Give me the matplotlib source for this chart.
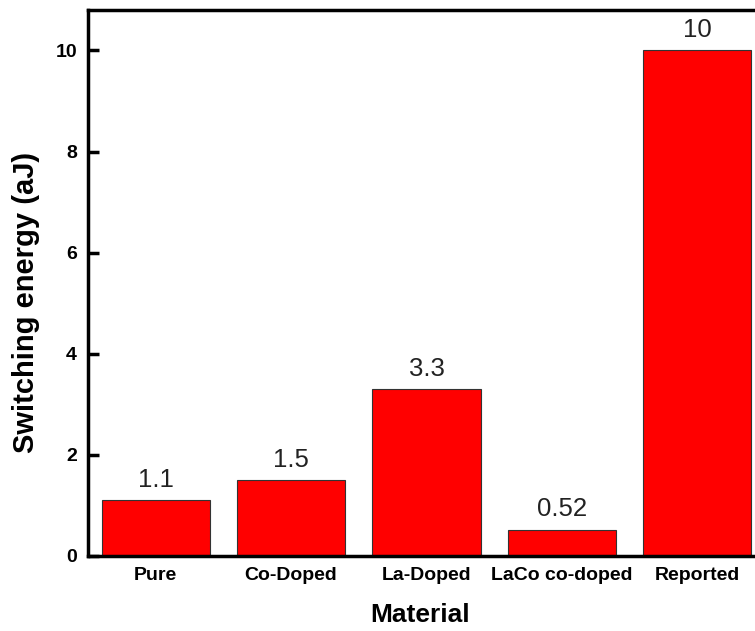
import matplotlib
matplotlib.use("Agg")
import matplotlib.pyplot as plt

# -----------------------------
# Data
# -----------------------------
materials = ["Pure", "Co-Doped", "La-Doped", "LaCo co-doped", "Reported"]
energy = [1.1, 1.5, 3.3, 0.52, 10]
labels = ["1.1", "1.5", "3.3", "0.52", "10"]
yticks = [0, 2, 4, 6, 8, 10]

plt.rcParams["font.family"] = ["Liberation Sans", "DejaVu Sans"]

fig = plt.figure(figsize=(7.55, 6.31), dpi=100)
# right edge of the axes runs past the figure, as in the reference
ax = fig.add_axes([88 / 755, 75 / 631, (765 - 88) / 755, (556 - 10) / 631])

x = list(range(len(materials)))
ax.bar(x, energy, width=0.8, color="#ff0000", edgecolor="#333333", linewidth=0.8)

for xi, v, lab in zip(x, energy, labels):
    ax.text(xi, v + 0.17, lab, ha="center", va="bottom", fontsize=18.5, color="#222222")

ax.set_xlim(-0.5, 4.5)
ax.set_ylim(0, 10.8)
ax.set_yticks(yticks)
ax.set_xticks(x)
ax.set_xticklabels(materials, fontsize=14, fontweight="bold")
ax.tick_params(axis="x", length=0, pad=8)
ax.tick_params(axis="y", direction="in", length=8, width=2.5, labelsize=14, pad=8)
for lab in ax.get_yticklabels():
    lab.set_fontweight("bold")

for side in ["left", "bottom", "top", "right"]:
    ax.spines[side].set_linewidth(2.5)

ax.set_ylabel("Switching energy (aJ)", fontsize=21, fontweight="bold")
ax.yaxis.set_label_coords(-(88 - 26) / (765 - 88), (556 - 302) / (556 - 10))
ax.set_xlabel("Material", fontsize=19, fontweight="bold")
ax.xaxis.set_label_coords((420 - 88) / (765 - 88), -(615 - 556) / (556 - 10))
ax.xaxis.label.set_va("center")
ax.yaxis.label.set_va("center")

fig.savefig("out.png", dpi=100)
